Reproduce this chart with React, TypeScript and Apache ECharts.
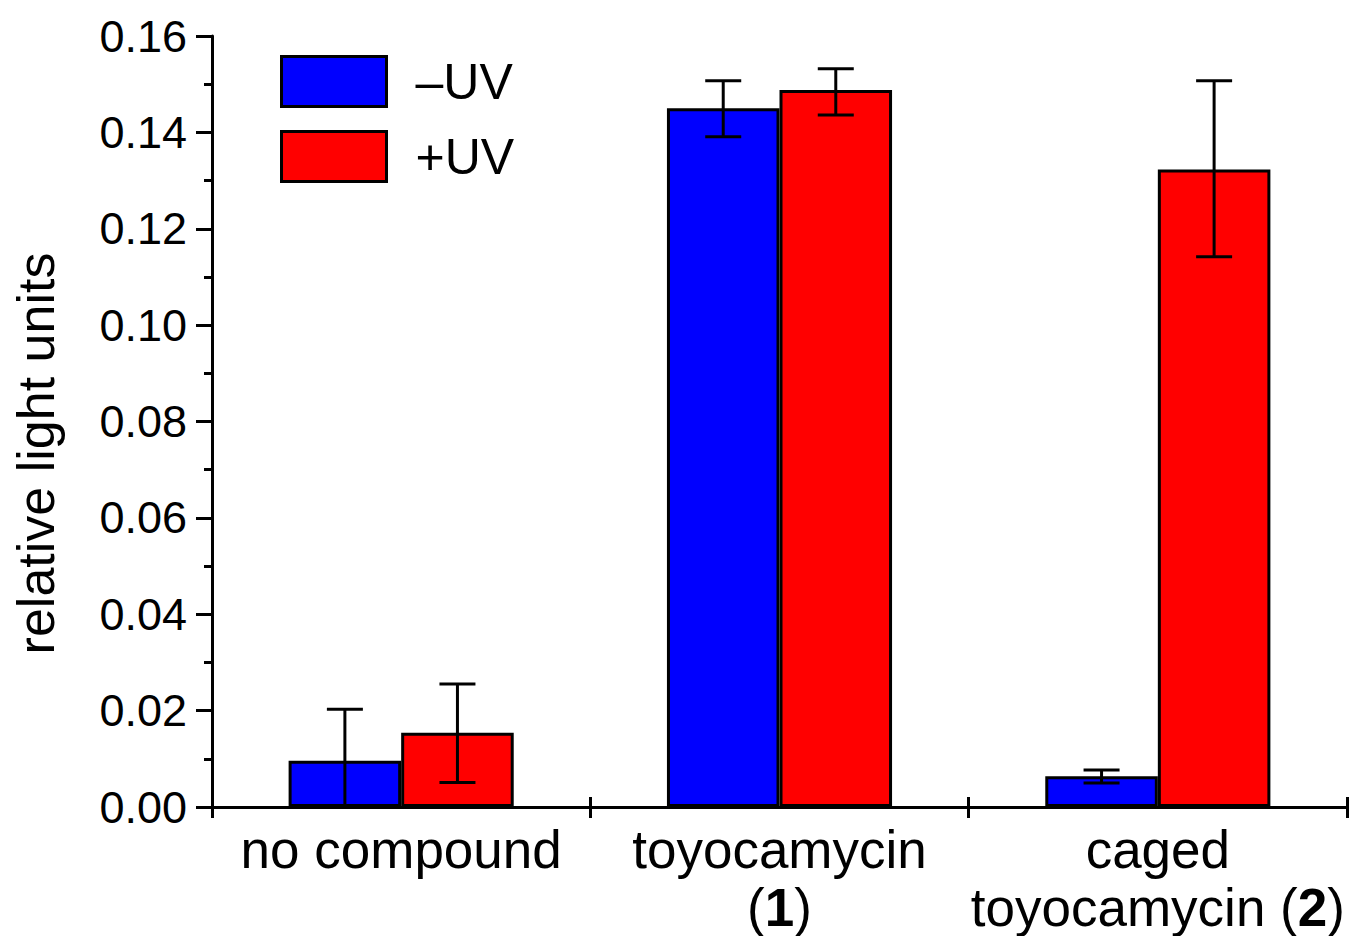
import React, { useEffect, useRef } from "react";
import * as echarts from "echarts";

const categories = ["no compound", "toyocamycin (1)", "caged toyocamycin (2)"];
const seriesNames = ["–UV", "+UV"];
const minusUV = [0.0096, 0.145, 0.0064];
const minusUVLow = [0.0, 0.1391, 0.005];
const minusUVHigh = [0.0203, 0.1507, 0.0077];
const plusUV = [0.0154, 0.1488, 0.1323];
const plusUVLow = [0.0051, 0.1436, 0.1142];
const plusUVHigh = [0.0255, 0.1532, 0.1507];
const yTicks = [0, 0.02, 0.04, 0.06, 0.08, 0.1, 0.12, 0.14, 0.16];

const FONT = "'Liberation Sans', Arial, sans-serif";
const BAR_FRACTION = 0.595;
const LW = 3;

function errorSeries(name: string, side: number, low: number[], high: number[]) {
  return {
    type: "custom",
    name,
    xAxisIndex: 0,
    yAxisIndex: 0,
    z: 10,
    encode: { x: 0, y: [1, 2] },
    data: low.map((l, i) => [i, l, high[i]]),
    renderItem: (params: any, api: any) => {
      const idx = api.value(0);
      const lo = api.value(1);
      const hi = api.value(2);
      const band = api.size([1, 0])[0];
      const off = (band * BAR_FRACTION) / 4 * side;
      const pLo = api.coord([idx, lo]);
      const pHi = api.coord([idx, hi]);
      const x = pLo[0] + off;
      const cap = 18;
      const style = { stroke: "#000", lineWidth: LW };
      return {
        type: "group",
        children: [
          { type: "line", shape: { x1: x, y1: pLo[1], x2: x, y2: pHi[1] }, style },
          { type: "line", shape: { x1: x - cap, y1: pHi[1], x2: x + cap, y2: pHi[1] }, style },
          { type: "line", shape: { x1: x - cap, y1: pLo[1], x2: x + cap, y2: pLo[1] }, style },
        ],
      };
    },
  };
}

export default function App() {
  const ref = useRef<HTMLDivElement>(null);
  useEffect(() => {
    if (!ref.current) return;
    const chart = echarts.init(ref.current, undefined, { renderer: "svg" });
    const labelFor = (v: string) => {
      if (v === "toyocamycin (1)") return "{n|toyocamycin}\n{n|(}{b|1}{n|)}";
      if (v === "caged toyocamycin (2)") return "{n|caged}\n{n|toyocamycin (}{b|2}{n|)}";
      return "{n|" + v + "}";
    };
    chart.setOption({
      animation: false,
      backgroundColor: "#fff",
      textStyle: { fontFamily: FONT, color: "#000" },
      grid: { left: 212, right: 10, top: 36, bottom: 129, containLabel: false },
      legend: {
        data: seriesNames,
        orient: "vertical",
        left: 275,
        top: 50,
        itemWidth: 105,
        itemHeight: 50,
        itemGap: 22,
        icon: "rect",
        itemStyle: { borderColor: "#000", borderWidth: LW },
        textStyle: { fontSize: 50, fontFamily: FONT, color: "#000", padding: [0, 0, 0, 24] },
      },
      xAxis: [
        {
          type: "category",
          data: categories,
          position: "bottom",
          axisLine: { lineStyle: { color: "#000", width: LW } },
          axisTick: { show: true, length: 11, lineStyle: { color: "#000", width: LW } },
          axisLabel: {
            margin: 13,
            formatter: labelFor,
            rich: {
              n: { fontSize: 53, fontFamily: FONT, color: "#000", lineHeight: 58 },
              b: { fontSize: 53, fontFamily: FONT, color: "#000", fontWeight: "bold", lineHeight: 58 },
            },
          },
        },
        {
          type: "category",
          data: categories,
          position: "bottom",
          axisLine: { show: false },
          axisTick: { show: true, inside: true, length: 10, lineStyle: { color: "#000", width: LW } },
          axisLabel: { show: false },
        },
      ],
      yAxis: {
        type: "value",
        min: yTicks[0],
        max: yTicks[yTicks.length - 1],
        interval: 0.02,
        name: "relative light units",
        nameLocation: "middle",
        nameRotate: 90,
        nameGap: 150,
        nameTextStyle: { fontSize: 52, fontFamily: FONT, color: "#000", padding: [0, 64, 0, 0] },
        axisLine: { show: true, lineStyle: { color: "#000", width: LW } },
        axisTick: { show: true, length: 16, lineStyle: { color: "#000", width: LW } },
        minorTick: { show: true, splitNumber: 2, length: 8, lineStyle: { color: "#000", width: LW } },
        splitLine: { show: false },
        axisLabel: {
          margin: 25,
          fontSize: 45,
          fontFamily: FONT,
          color: "#000",
          formatter: (v: number) => v.toFixed(2),
        },
      },
      series: [
        {
          type: "bar",
          name: seriesNames[0],
          data: minusUV,
          barGap: "0%",
          barCategoryGap: "40.5%",
          itemStyle: { color: "#0000ff", borderColor: "#000", borderWidth: LW },
        },
        {
          type: "bar",
          name: seriesNames[1],
          data: plusUV,
          barGap: "0%",
          barCategoryGap: "40.5%",
          itemStyle: { color: "#ff0000", borderColor: "#000", borderWidth: LW },
        },
        errorSeries("err-minus", -1, minusUVLow, minusUVHigh),
        errorSeries("err-plus", 1, plusUVLow, plusUVHigh),
      ],
    });
    return () => chart.dispose();
  }, []);
  return (
    <div
      ref={ref}
      style={{ position: "absolute", left: 0, top: 0, width: 1357, height: 936, background: "#fff" }}
    />
  );
}
